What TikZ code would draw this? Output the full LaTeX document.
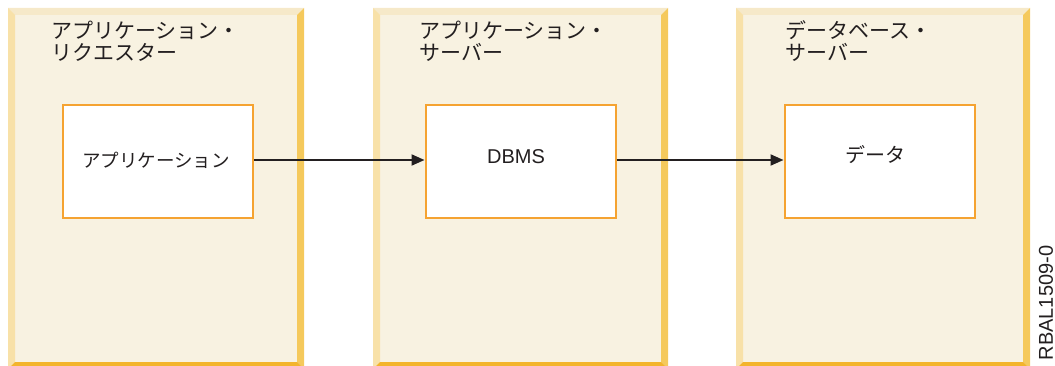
\documentclass[tikz,border=0pt]{standalone}
\usepackage{fontspec}
\setmainfont{Liberation Sans}
\newfontfamily\jp{Noto Sans CJK JP}
\usetikzlibrary{arrows.meta}
\definecolor{panelfill}{HTML}{F8F2E1}
\definecolor{bevtop}{HTML}{F6E9C9}
\definecolor{bevleft}{HTML}{F8E1A8}
\definecolor{bevright}{HTML}{F5C95C}
\definecolor{bevbottom}{HTML}{F3B42C}
\definecolor{boxorange}{HTML}{F5A331}
\definecolor{ink}{HTML}{231F20}
\tikzset{
  innerbox/.style={draw=boxorange, line width=2pt, fill=white, minimum width=190pt, minimum height=113pt, inner sep=0pt},
  titletext/.style={anchor=base west, inner sep=0pt, text=ink, font=\jp\fontsize{21pt}{22pt}\selectfont},
  jplabel/.style={inner sep=0pt, text=ink, font=\jp\fontsize{20pt}{22pt}\selectfont},
  smalljp/.style={inner sep=0pt, text=ink, font=\jp\fontsize{18.5pt}{20pt}\selectfont},
  latinlabel/.style={inner sep=0pt, text=ink, font=\fontsize{20pt}{22pt}\selectfont},
  flow/.style={draw=ink, line width=2pt, -{Triangle[length=13pt,width=11pt]}}
}
\begin{document}
\begin{tikzpicture}[x=1pt,y=-1pt]
\useasboundingbox (0,0) rectangle (1055,366);
% panels with bevelled frames
\foreach \xa/\xb in {8/304, 373/668, 736/1030}{
  \pgfmathsetmacro\xc{\xa+7}
  \pgfmathsetmacro\xd{\xb-7}
  \fill[panelfill] (\xa,8) rectangle (\xb,369);
  \fill[bevtop] (\xa,8) -- (\xb,8) -- (\xd,15) -- (\xc,15) -- cycle;
  \fill[bevleft] (\xa,8) -- (\xc,15) -- (\xc,362) -- (\xa,369) -- cycle;
  \fill[bevright] (\xb,8) -- (\xd,15) -- (\xd,362) -- (\xb,369) -- cycle;
  \fill[bevbottom] (\xa,369) -- (\xc,362) -- (\xd,362) -- (\xb,369) -- cycle;
}
% titles
\node[titletext] (t1a) at (51,39) {アプリケーション・};
\node[titletext] (t1b) at (51,61) {リクエスター};
\node[titletext] (t2a) at (419,39) {アプリケーション・};
\node[titletext] (t2b) at (419,61) {サーバー};
\node[titletext] (t3a) at (785,39) {データベース・};
\node[titletext] (t3b) at (785,61) {サーバー};
% inner boxes
\node[innerbox] (b1) at (158,161.5) {};
\node[innerbox] (b2) at (520.5,161.5) {};
\node[innerbox] (b3) at (879.5,161.5) {};
\node[smalljp] (l1) at (156,160) {アプリケーション};
\node[latinlabel] (l2) at (516,157) {DBMS};
\node[jplabel] (l3) at (875,155) {データ};
% connectors
\draw[flow] ([yshift=1.5pt]b1.east) -- ([yshift=1.5pt]b2.west);
\draw[flow] ([yshift=1.5pt]b2.east) -- ([yshift=1.5pt]b3.west);
% figure id
\node[latinlabel, rotate=90] (fid) at (1046,303) {RBAL1509-0};
\end{tikzpicture}
\end{document}
